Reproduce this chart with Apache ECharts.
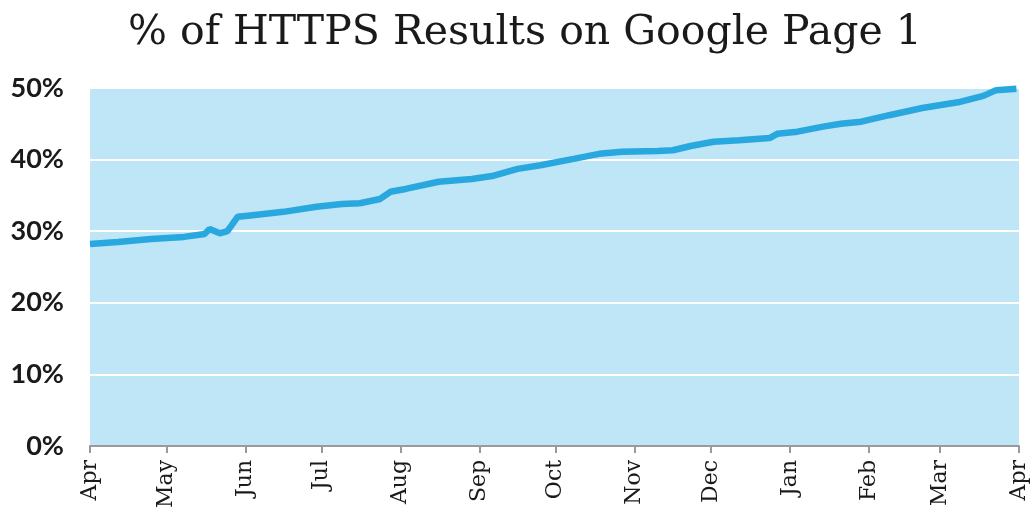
<!DOCTYPE html>
<html>
<head>
<meta charset="utf-8">
<script src="https://cdn.jsdelivr.net/npm/echarts@6/dist/echarts.min.js"></script>
<style>
  html, body { margin: 0; padding: 0; background: #fff; }
  #chart { width: 1036px; height: 511px; }
</style>
</head>
<body>
<div id="chart"></div>
<script>
const monthNames = ["Jan", "Feb", "Mar", "Apr", "May", "Jun", "Jul", "Aug", "Sep", "Oct", "Nov", "Dec"];
const monthStarts = ["2016-04-01", "2016-05-01", "2016-06-01", "2016-07-01", "2016-08-01", "2016-09-01",
  "2016-10-01", "2016-11-01", "2016-12-01", "2017-01-01", "2017-02-01", "2017-03-01", "2017-04-01"];

const dates = [
  "2016-04-01", "2016-04-12", "2016-04-25", "2016-05-08", "2016-05-16", "2016-05-18",
  "2016-05-22", "2016-05-25", "2016-05-29", "2016-06-03", "2016-06-16", "2016-06-29",
  "2016-07-09", "2016-07-16", "2016-07-24", "2016-07-28", "2016-08-03", "2016-08-16",
  "2016-08-29", "2016-09-06", "2016-09-16", "2016-09-25", "2016-10-08", "2016-10-18",
  "2016-10-27", "2016-11-10", "2016-11-16", "2016-11-23", "2016-12-02", "2016-12-12",
  "2016-12-24", "2016-12-27", "2017-01-04", "2017-01-14", "2017-01-21", "2017-01-29",
  "2017-02-09", "2017-02-22", "2017-03-08", "2017-03-18", "2017-03-23", "2017-03-31"
];
const httpsShare = [
  28.2, 28.5, 28.9, 29.2, 29.6, 30.3,
  29.7, 30.0, 32.0, 32.2, 32.7, 33.4,
  33.8, 33.9, 34.5, 35.5, 35.9, 36.9,
  37.3, 37.7, 38.7, 39.2, 40.1, 40.8,
  41.1, 41.2, 41.3, 41.9, 42.5, 42.7,
  43.0, 43.6, 43.9, 44.6, 45.0, 45.3,
  46.2, 47.2, 48.0, 48.9, 49.7, 49.9
];
const yTicks = [0, 10, 20, 30, 40, 50];

function toTime(s) {
  const p = s.split("-").map(Number);
  return Date.UTC(p[0], p[1] - 1, p[2]);
}

const tickTimes = monthStarts.map(toTime);
const seriesData = dates.map((d, i) => [toTime(d), httpsShare[i]]);

const chart = echarts.init(document.getElementById("chart"));

chart.setOption({
  animation: false,
  title: {
    text: "% of HTTPS Results on Google Page 1",
    left: 520,
    top: 8,
    textAlign: "center",
    textStyle: {
      fontFamily: "DejaVu Serif",
      fontWeight: "normal",
      fontSize: 41,
      color: "#1a1a1a"
    }
  },
  grid: {
    left: 90, right: 17, top: 88, bottom: 65,
    show: true,
    backgroundColor: "#bee6f6",
    borderWidth: 0
  },
  xAxis: {
    type: "value",
    min: tickTimes[0],
    max: tickTimes[tickTimes.length - 1],
    axisLine: { lineStyle: { color: "#9a9a9a", width: 2 } },
    axisTick: {
      show: true,
      customValues: tickTimes,
      length: 7,
      lineStyle: { color: "#9a9a9a", width: 2 }
    },
    axisLabel: {
      customValues: tickTimes,
      rotate: 90,
      margin: 14,
      color: "#1a1a1a",
      fontFamily: "DejaVu Serif",
      fontSize: 22,
      formatter: v => monthNames[new Date(v).getUTCMonth()]
    },
    splitLine: { show: false }
  },
  yAxis: {
    type: "value",
    min: yTicks[0],
    max: yTicks[yTicks.length - 1],
    interval: 10,
    axisLine: { show: false },
    axisTick: { show: false },
    axisLabel: {
      margin: 26,
      color: "#1a1a1a",
      fontFamily: "Lato",
      fontWeight: "bold",
      fontSize: 27,
      formatter: v => v + "%"
    },
    splitLine: { lineStyle: { color: "#ffffff", width: 2 } }
  },
  series: [{
    type: "line",
    data: seriesData,
    showSymbol: false,
    lineStyle: { color: "#29a8e0", width: 6.5 },
    itemStyle: { color: "#29a8e0" }
  }]
});
</script>
</body>
</html>
